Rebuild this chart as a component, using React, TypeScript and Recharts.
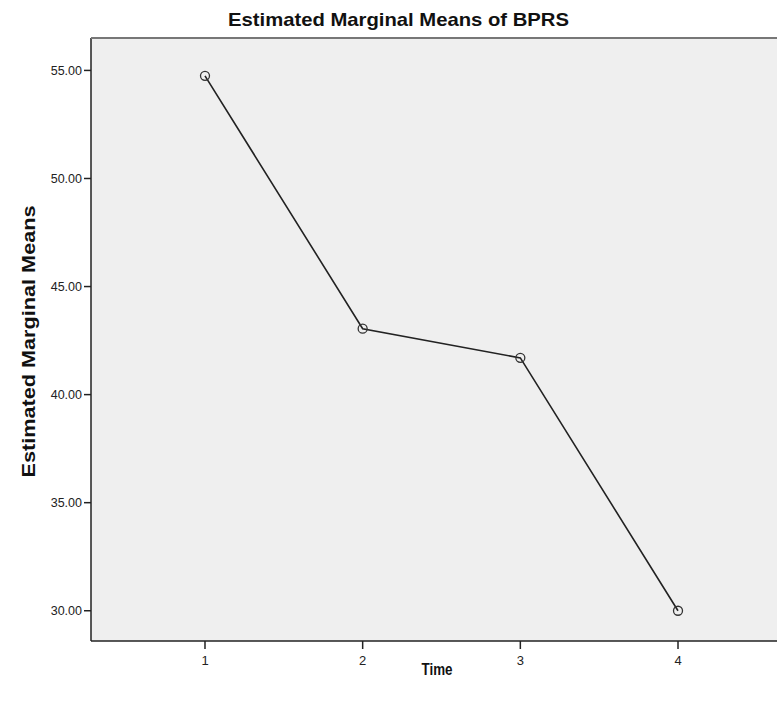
import React from "react";
import {
  ComposedChart,
  Line,
  XAxis,
  YAxis,
  CartesianGrid,
} from "recharts";

const times = [1, 2, 3, 4];
const means = [54.75, 43.05, 41.7, 30.0];
const yTicks = [30, 35, 40, 45, 50, 55];
const xTicks = [1, 2, 3, 4];

const data = times.map((t, i) => ({ time: t, mean: means[i] }));

const FONT = "'Liberation Sans', Arial, sans-serif";

const YLabel = (props: any) => {
  const vb = props.viewBox || {};
  const cy = (vb.y || 0) + (vb.height || 0) / 2 + 2;
  return (
    <text
      x={28}
      y={cy}
      transform={`rotate(-90, 28, ${cy})`}
      textAnchor="middle"
      dominantBaseline="central"
      fontFamily={FONT}
      fontWeight="bold"
      fontSize={19}
      textLength={272}
      lengthAdjust="spacingAndGlyphs"
      fill="#111"
    >
      Estimated Marginal Means
    </text>
  );
};

const XLabel = () => {
  return (
    <text
      x={437}
      y={675}
      textAnchor="middle"
      fontFamily={FONT}
      fontWeight="bold"
      fontSize={16}
      textLength={31}
      lengthAdjust="spacingAndGlyphs"
      fill="#111"
    >
      Time
    </text>
  );
};

const Dot = (props: any) => {
  const { cx, cy } = props;
  if (cx == null || cy == null) return null;
  return <circle cx={cx} cy={cy} r={4.5} fill="none" stroke="#333" strokeWidth={1.3} />;
};

export default function App() {
  return (
    <div
      style={{
        position: "absolute",
        left: 0,
        top: 0,
        width: 777,
        height: 710,
        overflow: "hidden",
        background: "#fff",
      }}
    >
      <ComposedChart
        width={800}
        height={710}
        data={data}
        margin={{ top: 38, right: 8, bottom: 0, left: 0 }}
      >
        <CartesianGrid horizontal={false} vertical={false} fill="#efefef" />
        <XAxis
          dataKey="time"
          type="number"
          domain={[0.277, 4.723]}
          ticks={xTicks}
          allowDataOverflow
          tickSize={8}
          tickLine={{ stroke: "#222", strokeWidth: 1.5 }}
          axisLine={{ stroke: "#222", strokeWidth: 1.5 }}
          tick={{ fontFamily: FONT, fontSize: 13, fill: "#222", dy: 5 }}
          height={69}
          label={<XLabel />}
        />
        <YAxis
          type="number"
          domain={[28.6, 56.5]}
          ticks={yTicks}
          allowDataOverflow
          width={91}
          tickSize={7}
          tickLine={{ stroke: "#222", strokeWidth: 1.5 }}
          axisLine={{ stroke: "#222", strokeWidth: 1.5 }}
          tick={{ fontFamily: FONT, fontSize: 12.5, fill: "#222" }}
          tickFormatter={(v: number) => v.toFixed(2)}
          label={<YLabel />}
        />
        <Line
          dataKey="mean"
          type="linear"
          stroke="#222"
          strokeWidth={1.6}
          dot={<Dot />}
          activeDot={false}
          isAnimationActive={false}
        />
      </ComposedChart>
      <div
        style={{
          position: "absolute",
          left: 91,
          top: 37,
          width: 700,
          height: 2,
          background: "#777",
        }}
      />
      <svg
        width={777}
        height={36}
        style={{ position: "absolute", left: 0, top: 0 }}
      >
        <text
          x={398.5}
          y={26}
          textAnchor="middle"
          fontFamily={FONT}
          fontWeight="bold"
          fontSize={19}
          textLength={341}
          lengthAdjust="spacingAndGlyphs"
          fill="#111"
        >
          Estimated Marginal Means of BPRS
        </text>
      </svg>
    </div>
  );
}
